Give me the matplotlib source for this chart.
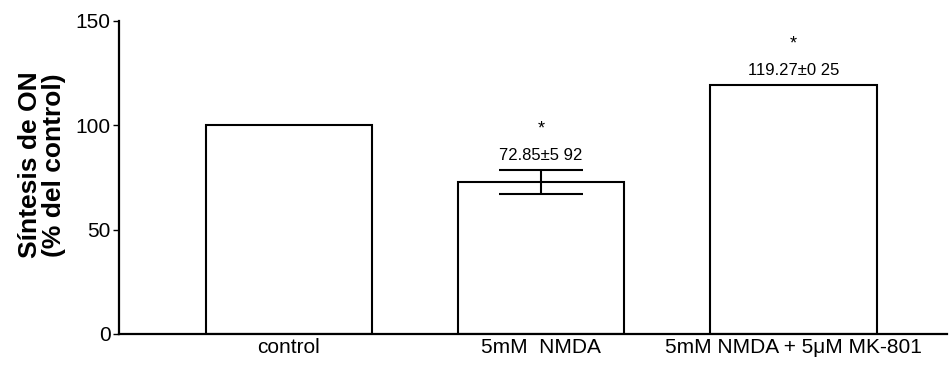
import matplotlib
matplotlib.use("Agg")
import matplotlib.pyplot as plt
import numpy as np

conditions = ["control", "5mM  NMDA", "5mM NMDA + 5\u03bcM MK-801"]
means = [100.0, 72.85, 119.27]
errors = [0.0, 5.92, 0.25]
value_labels = [None, "72.85\u00b15 92", "119.27\u00b10 25"]
significant = [False, True, True]

plt.rcParams["font.family"] = ["Liberation Sans", "DejaVu Sans"]

fig = plt.figure(figsize=(9.52, 3.68), dpi=100)
ax = fig.add_axes([0.125, 0.0924, 0.87, 0.851])

x = np.arange(len(conditions))
ax.bar(x, means, width=0.66, color="white", edgecolor="black", linewidth=1.5)

# only the NMDA group has a visible SEM bar
for xi, m, e in zip(x, means, errors):
    if e > 1:
        ax.errorbar(xi, m, yerr=e, fmt="none", ecolor="black",
                    elinewidth=1.5, capsize=30, capthick=1.5)

for xi, m, e, lab, sig in zip(x, means, errors, value_labels, significant):
    top = m + e
    if lab:
        ax.annotate(lab, (xi, top), xytext=(0, 10), textcoords="offset points",
                    ha="center", va="center", fontsize=12)
    if sig:
        ax.annotate("*", (xi, top), xytext=(0, 29), textcoords="offset points",
                    ha="center", va="center", fontsize=13)

ax.set_xlim(-0.673, 2.61)
ax.set_ylim(0, 150)
ax.set_yticks([0, 50, 100, 150])
ax.set_xticks(x)
ax.set_xticklabels(conditions, fontsize=15)
ax.tick_params(axis="x", length=0, pad=3)
ax.tick_params(axis="y", length=4, width=1, pad=2, labelsize=15)

ax.spines["top"].set_visible(False)
ax.spines["right"].set_visible(False)
ax.spines["left"].set_linewidth(1.6)
ax.spines["bottom"].set_linewidth(1.6)

ax.set_ylabel("S\u00edntesis de ON\n(% del control)", fontsize=19,
              fontweight="bold", linespacing=1.0)
ax.yaxis.set_label_coords(-0.064, 0.54)

fig.savefig("out.png", dpi=100)
